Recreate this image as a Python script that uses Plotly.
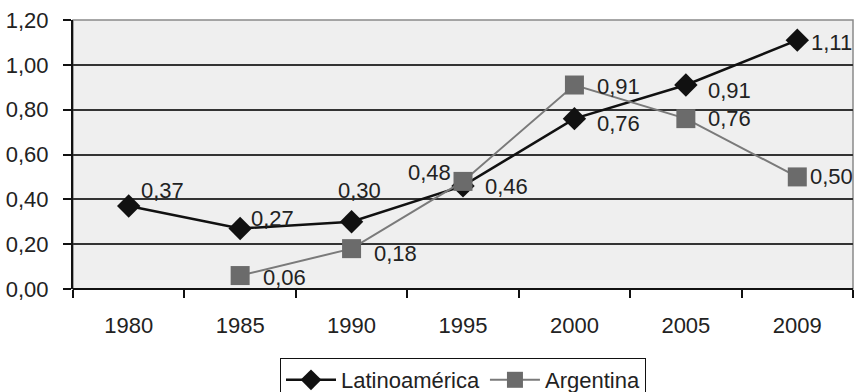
import plotly.graph_objects as go

years = ["1980", "1985", "1990", "1995", "2000", "2005", "2009"]
latam = [0.37, 0.27, 0.30, 0.46, 0.76, 0.91, 1.11]
argentina = [None, 0.06, 0.18, 0.48, 0.91, 0.76, 0.50]
y_ticks = [0.0, 0.2, 0.4, 0.6, 0.8, 1.0, 1.2]

FONT = "Liberation Sans, Arial, sans-serif"
FS = 22

# label placement per point: (xanchor, xshift, yshift) in pixels
latam_lbl = [("left", 10, 16), ("left", 9, 10), ("center", 8, 31), ("left", 20, -1),
             ("left", 21, -5), ("left", 20, -5), ("left", 12, -2)]
arg_lbl = [None, ("left", 21, -2), ("left", 20, -5), ("right", -10, 9),
           ("left", 21, -1), ("left", 20, 0), ("left", 11, 0)]

def fmt(v):
    return f"{v:.2f}".replace(".", ",")

fig = go.Figure()
fig.add_trace(go.Scatter(
    x=years, y=latam, name="Latinoamérica", mode="lines+markers",
    line=dict(color="#111111", width=2.5),
    marker=dict(symbol="diamond", size=18, color="#111111"),
))
fig.add_trace(go.Scatter(
    x=years, y=argentina, name="Argentina", mode="lines+markers",
    line=dict(color="#7a7a7a", width=2),
    marker=dict(symbol="square", size=19, color="#6b6b6b"),
))

annotations = []
for series, places in ((latam, latam_lbl), (argentina, arg_lbl)):
    for i, (v, p) in enumerate(zip(series, places)):
        if v is None or p is None:
            continue
        anchor, dx, dy = p
        annotations.append(dict(
            x=i, y=v, xref="x", yref="y", text=fmt(v), showarrow=False,
            xanchor=anchor, yanchor="middle", xshift=dx, yshift=dy,
            font=dict(family=FONT, size=FS, color="#222222"),
        ))

fig.update_layout(
    width=858, height=392,
    margin=dict(l=73, r=5, t=20, b=103, autoexpand=False),
    paper_bgcolor="white", plot_bgcolor="#efefef",
    font=dict(family=FONT, size=FS, color="#222222"),
    showlegend=True,
    legend=dict(
        orientation="h", x=0.5, xanchor="center",
        yref="container", y=(392 - 358) / 392, yanchor="top",
        bordercolor="#111111", borderwidth=1, bgcolor="white",
        font=dict(family=FONT, size=FS, color="#222222"),
        itemwidth=50, tracegroupgap=0,
    ),
    annotations=annotations,
    shapes=[dict(type="rect", xref="paper", yref="paper", x0=0, x1=1, y0=0, y1=1,
                 line=dict(color="#8a8a8a", width=1.5), layer="below")],
)
fig.update_xaxes(
    type="category", categoryorder="array", categoryarray=years,
    tickson="boundaries", ticks="outside", ticklen=8, tickcolor="#111111",
    tickwidth=1.5, showgrid=False, showline=False, zeroline=False,
    ticklabelstandoff=21,
    tickfont=dict(family=FONT, size=FS, color="#222222"),
    range=[-0.5, 6.5],
)
fig.update_yaxes(
    range=[0, 1.2], tickvals=y_ticks, ticktext=[fmt(v) for v in y_ticks],
    ticks="outside", ticklen=8, tickcolor="#111111", tickwidth=1.5,
    showline=True, linecolor="#111111", linewidth=2,
    showgrid=True, gridcolor="#333333", gridwidth=1.5,
    zeroline=True, zerolinecolor="#111111", zerolinewidth=2,
    ticklabelstandoff=10,
    tickfont=dict(family=FONT, size=FS, color="#222222"),
)

fig.write_html("out.html")
